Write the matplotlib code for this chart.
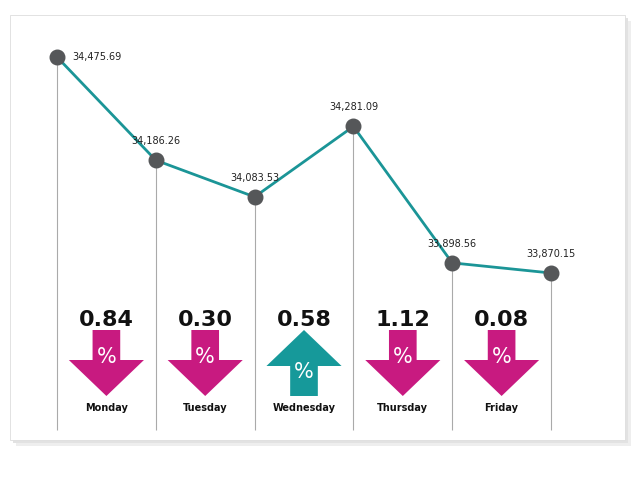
import matplotlib.pyplot as plt
import matplotlib.transforms as mtransforms
from matplotlib.patches import Polygon, Rectangle

days = ["Monday", "Tuesday", "Wednesday", "Thursday", "Friday"]
closes = [34475.69, 34186.26, 34083.53, 34281.09, 33898.56, 33870.15]
changes = ["0.84", "0.30", "0.58", "1.12", "0.08"]
direction = [-1, -1, 1, -1, -1]

LINE = "#1b9597"
DOWN = "#c81a80"
UP = "#16999a"

fig = plt.figure(figsize=(6.4, 4.8), dpi=100)
fig.patch.set_facecolor("white")

# background panel with soft shadow
bg = fig.add_axes([0, 0, 1, 1], zorder=0)
bg.axis("off")
bg.set_xlim(0, 640)
bg.set_ylim(480, 0)
for off, c in [(6, "#eeeeee"), (3, "#e2e2e2")]:
    bg.add_patch(Rectangle((10 + off, 15 + off), 615, 425, fc=c, ec="none"))
bg.add_patch(Rectangle((10, 15), 615, 425, fc="white", ec="#dddddd", lw=0.6))

ax = fig.add_axes([0, 0, 1, 1], zorder=1)
ax.patch.set_alpha(0)
ax.axis("off")
px_x = 98.8
px_y = 216 / (closes[0] - closes[-1])
ax.set_xlim(-57 / px_x, (640 - 57) / px_x)
ax.set_ylim(closes[0] - 423 / px_y, closes[0] + 57 / px_y)

x = list(range(len(closes)))
bottom = closes[0] - 373 / px_y
ax.vlines(x, bottom, closes, color="#aaaaaa", lw=0.8, zorder=1)
ax.plot(x, closes, color=LINE, lw=2, zorder=2)
ax.scatter(x, closes, s=110, color="#555759", zorder=3)
for xi, v in zip(x, closes):
    if xi == 0:
        ax.text(xi + 0.15, v, f"{v:,.2f}", fontsize=7, ha="left", va="center", color="#222222")
    else:
        ax.text(xi, v + 14 / px_y, f"{v:,.2f}", fontsize=7, ha="center", va="bottom", color="#222222")

tr = mtransforms.blended_transform_factory(ax.transData, ax.transAxes)
def fy(p):
    return 1 - p / 480

hw, sw = 0.38, 0.14
for i, (d, ch, dr) in enumerate(zip(days, changes, direction)):
    cx = i + 0.5
    if dr < 0:
        pts = [(cx - sw, 330), (cx + sw, 330), (cx + sw, 360), (cx + hw, 360),
               (cx, 396), (cx - hw, 360), (cx - sw, 360)]
        col, pct_y = DOWN, 357
    else:
        pts = [(cx, 330), (cx + hw, 366), (cx + sw, 366), (cx + sw, 396),
               (cx - sw, 396), (cx - sw, 366), (cx - hw, 366)]
        col, pct_y = UP, 372
    ax.add_patch(Polygon([(a, fy(b)) for a, b in pts], closed=True, transform=tr,
                         fc=col, ec="none", zorder=4))
    ax.text(cx, fy(pct_y), "%", transform=tr, ha="center", va="center",
            fontsize=15, color="white", zorder=5)
    ax.text(cx, fy(320), ch, transform=tr, ha="center", va="center",
            fontsize=16, fontweight="bold", color="#111111")
    ax.text(cx, fy(408), d, transform=tr, ha="center", va="center",
            fontsize=7, fontweight="bold", color="#111111")

fig.savefig("out.png", dpi=100)
